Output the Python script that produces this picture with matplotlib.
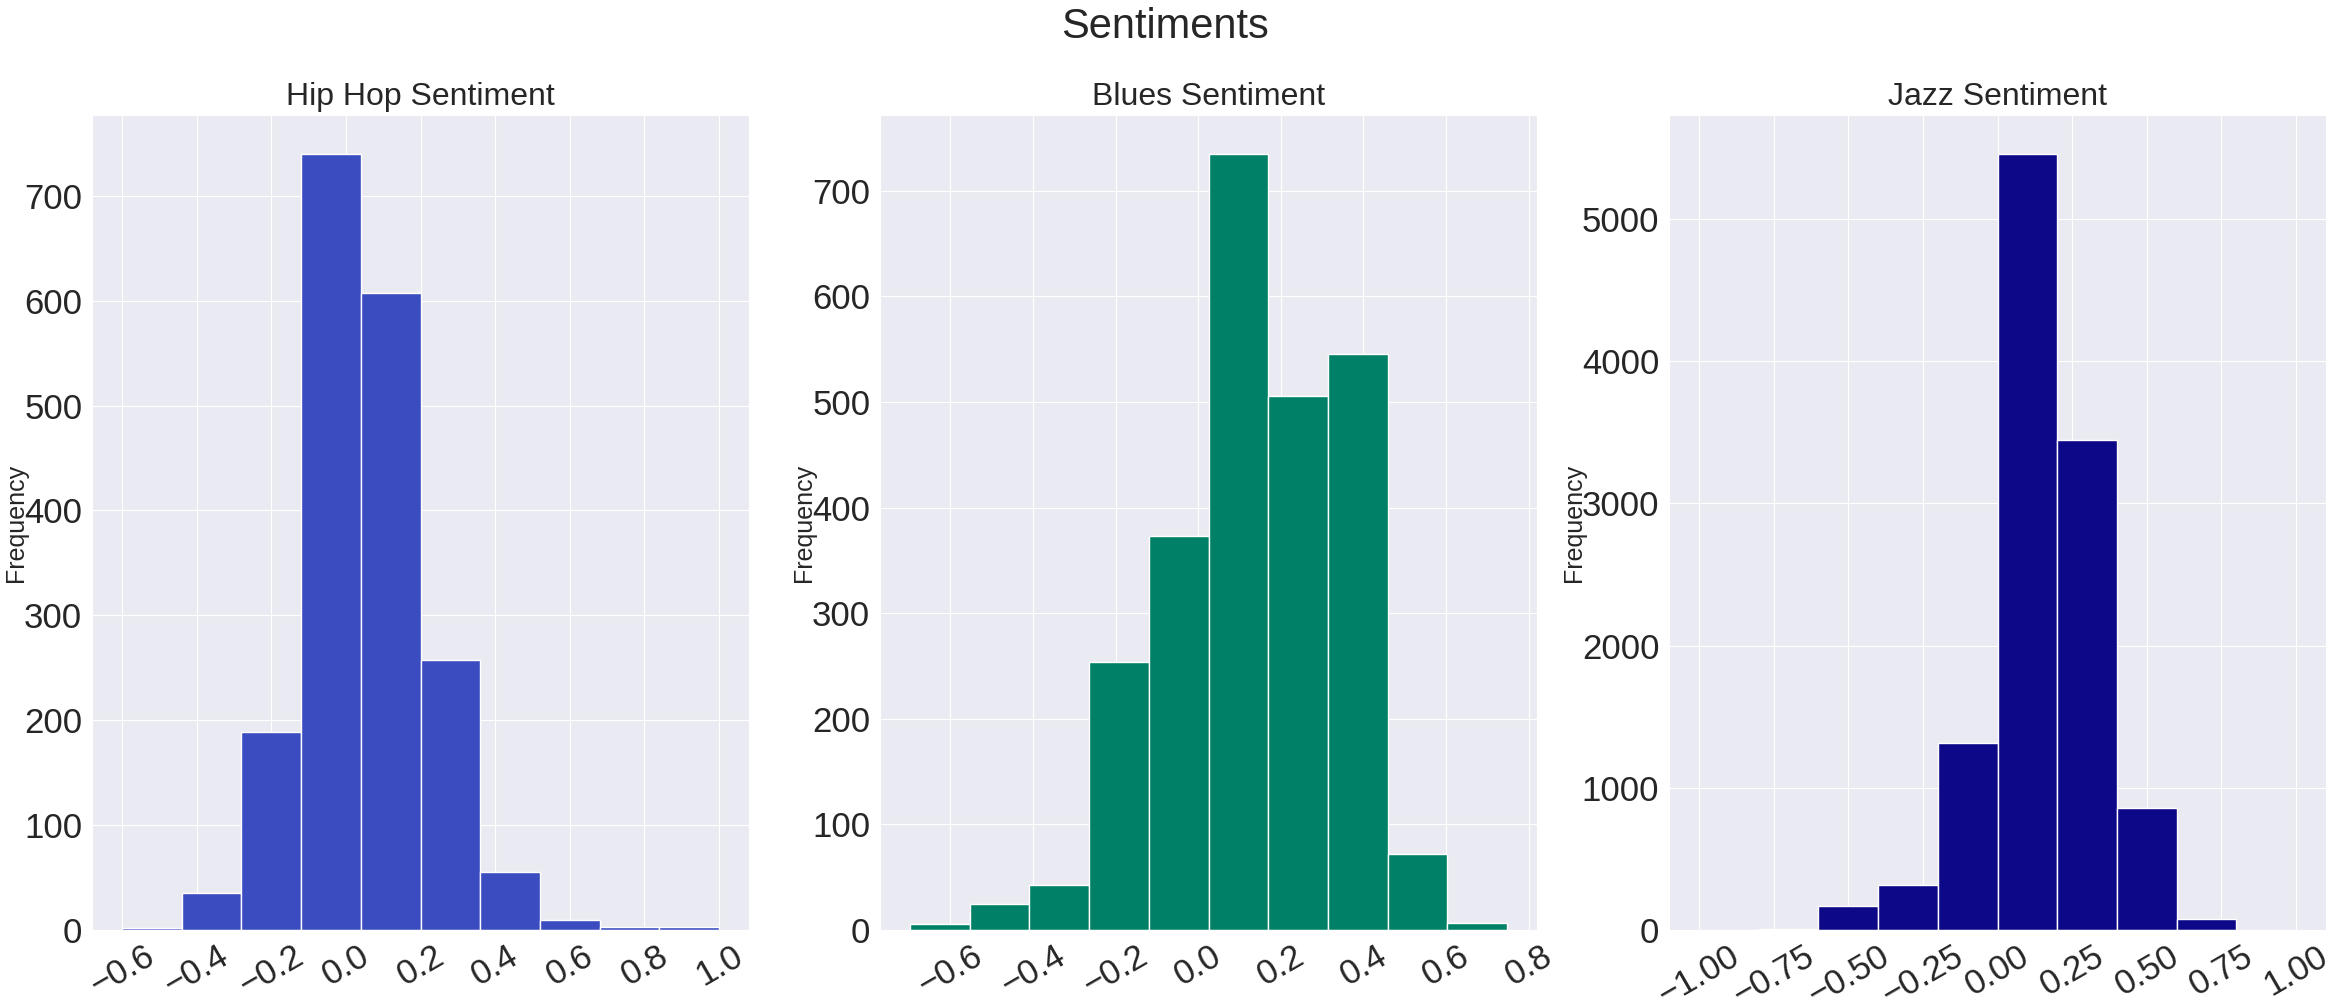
import numpy as np
import matplotlib
matplotlib.use("Agg")
import matplotlib.pyplot as plt
import seaborn as sns

# ---- data ----
hiphop_range = (-0.6, 1.0)
hiphop_counts = [2, 35, 189, 740, 607, 257, 55, 10, 3, 3]
hiphop_ticks = [-0.6, -0.4, -0.2, 0.0, 0.2, 0.4, 0.6, 0.8, 1.0]
hiphop_ticklabels = ["−0.6", "−0.4", "−0.2", "0.0", "0.2", "0.4", "0.6", "0.8", "1.0"]

blues_range = (-0.698, 0.748)
blues_counts = [6, 25, 43, 254, 373, 735, 506, 545, 72, 7]
blues_ticks = [-0.6, -0.4, -0.2, 0.0, 0.2, 0.4, 0.6, 0.8]
blues_ticklabels = ["−0.6", "−0.4", "−0.2", "0.0", "0.2", "0.4", "0.6", "0.8"]

jazz_range = (-1.0, 1.0)
jazz_counts = [1, 5, 168, 317, 1312, 5458, 3444, 858, 76, 3]
jazz_ticks = [-1.0, -0.75, -0.5, -0.25, 0.0, 0.25, 0.5, 0.75, 1.0]
jazz_ticklabels = ["−1.00", "−0.75", "−0.50", "−0.25", "0.00", "0.25", "0.50", "0.75", "1.00"]

titles = ["Hip Hop Sentiment", "Blues Sentiment", "Jazz Sentiment"]
colors = ["#3B4CC0", "#008066", "#0D0887"]
hiphop_yticks = [0, 100, 200, 300, 400, 500, 600, 700]
blues_yticks = [0, 100, 200, 300, 400, 500, 600, 700]
jazz_yticks = [0, 1000, 2000, 3000, 4000, 5000]

sns.set_style("darkgrid")
plt.rcParams["font.family"] = ["Liberation Sans", "DejaVu Sans"]
plt.rcParams["axes.unicode_minus"] = True

fig = plt.figure(figsize=(23.3, 10.05), dpi=100)

lefts = [92 / 2330, 880 / 2330, 1669 / 2330]
width = 657 / 2330
bottom = 75 / 1005
height = 815 / 1005

panels = [
    (hiphop_range, hiphop_counts, hiphop_ticks, hiphop_ticklabels, hiphop_yticks),
    (blues_range, blues_counts, blues_ticks, blues_ticklabels, blues_yticks),
    (jazz_range, jazz_counts, jazz_ticks, jazz_ticklabels, jazz_yticks),
]

for i, (rng, counts, xt, xtl, yt) in enumerate(panels):
    ax = fig.add_axes([lefts[i], bottom, width, height])
    edges = np.linspace(rng[0], rng[1], len(counts) + 1)
    centers = (edges[:-1] + edges[1:]) / 2
    ax.hist(centers, bins=edges, weights=counts, color=colors[i],
            edgecolor="white", linewidth=1.0)
    ax.set_xticks(xt)
    ax.set_xticklabels(xtl, rotation=30, fontsize=25)
    ax.set_yticks(yt)
    ax.tick_params(axis="y", labelsize=25)
    ax.set_ylabel("Frequency", fontsize=18, labelpad=-3)
    ax.set_title(titles[i], fontsize=23, pad=7)

fig.suptitle("Sentiments", fontsize=30, y=0.993, va="top")

fig.savefig("out.png", dpi=100)
